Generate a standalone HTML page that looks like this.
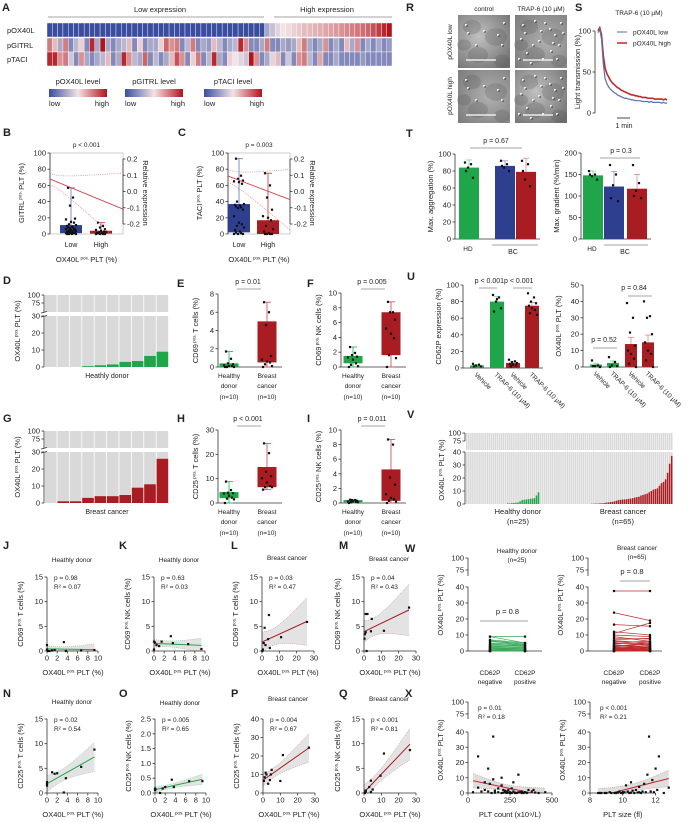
<!DOCTYPE html>
<html><head><meta charset="utf-8">
<style>
html,body{margin:0;padding:0;background:#fff;}
svg{display:block;font-family:"Liberation Sans",sans-serif;}
</style></head>
<body>
<svg id="fig" width="689" height="822" viewBox="0 0 689 822" xmlns="http://www.w3.org/2000/svg">
<defs>
<linearGradient id="cbar" x1="0" x2="1" y1="0" y2="0"><stop offset="0" stop-color="#3a4d9e"/><stop offset="0.5" stop-color="#f2e4e6"/><stop offset="1" stop-color="#b0141c"/></linearGradient>
<radialGradient id="mic1" cx="0.4" cy="0.4" r="0.8"><stop offset="0" stop-color="#c0c0c0"/><stop offset="0.6" stop-color="#909090"/><stop offset="1" stop-color="#6c6c6c"/></radialGradient>
<radialGradient id="mic2" cx="0.6" cy="0.5" r="0.8"><stop offset="0" stop-color="#b0b0b0"/><stop offset="1" stop-color="#7a7a7a"/></radialGradient>
</defs>
</svg>
<script>
// ---------------- DATA ----------------
const heatOX40L=[0,0,0,0,0,0,0,0,0,0,0,0,0,0,0,0,0,0,0,0,0,0,0,0,0,0,0,0,0,0,0,0,0,0,0,0,0,0,0,0,0,0.3,0.38,0.45,0.5,0.52,0.55,0.57,0.6,0.6,0.62,0.63,0.65,0.66,0.68,0.7,0.72,0.74,0.76,0.78,0.8,0.85,0.9,0.95,1.0];
const heatGITRL=[0.75,0.6,0.3,0.75,0.2,0.35,0.55,0.2,0.95,0.3,1.0,0.3,0.2,0.3,0.35,0.6,0.2,0.55,0.2,0.3,0.3,0.55,0.8,0.7,0.75,0.2,0.35,0.75,0.2,0.3,0.25,0.6,0.35,0.2,0.3,0.35,0.95,0.7,0.2,0.2,0.3,0.75,0.2,0.2,0.3,0.25,0.3,0.6,0.75,0.3,0.2,0.3,0.7,0.2,0.3,0.2,0.6,0.3,0.7,0.2,0.3,0.2,0.3,0.2,0.25];
const heatTACI=[0.95,0.95,0.7,0.75,0.4,0.2,0.7,0.3,0.2,0.3,0.35,0.6,0.2,0.3,0.95,0.7,0.35,0.3,0.8,0.2,0.35,0.2,0.3,0.6,0.85,0.7,0.2,0.55,0.75,0.2,0.35,0.95,0.3,0.2,0.55,0.5,0.45,0.4,1.0,0.7,0.2,0.3,0.45,0.6,0.2,0.4,0.2,0.7,0.75,0.35,0.2,0.65,0.2,0.2,0.3,0.2,0.2,0.2,0.2,0.25,0.2,0.2,0.2,0.2,0.2];

const bLowStats=[0,1,5,11,57], bHighStats=[0,0.5,2,4,14];
const bLowPts=[57,45,35,19,18,15,14,12,11,10,9,8,8,7,6,6,5,5,4,4,3,3,3,2,2,2,1,1,1,0,0,0,0];
const bHighPts=[14,10,8,6,5,4,3,2,2,1,1,1,0,0,0,0];
const bRelLine=[0.077,-0.108];
const cLowStats=[0,2,15,37,93], cHighStats=[0,0,5,17,75];
const cLowPts=[93,72,68,66,65,64,62,40,37,36,35,34,33,32,30,22,14,12,10,8,5,3,2,1,0,0,0];
const cHighPts=[75,60,45,30,22,20,17,10,6,3,1,0,0,0,0];
const cRelLine=[0.095,-0.05];

const dValues=[0,0,0,0.5,1,1.5,3,3.5,6.5,9];
const gValues=[0,1,1,3,4,4,4.7,9,11,26];

const eHD=[1.7,0.9,0.4,0.3,0.2,0.1,0.1,0,0,0], eBC=[7.1,6,4.6,1.2,0.8,0.6,0.5,0.3,0.1,0];
const eHDStats=[0,0,0.1,0.4,1.7], eBCStats=[0,0.5,1,5,7.1];
const fHD=[2.7,1.9,1.6,1.4,1.3,1.0,0.5,0.3,0.1,0], fBC=[8.8,7.4,7.4,6.4,5.2,4.5,3.9,1.6,1.2,0];
const fHDStats=[0,0.5,1.2,1.5,2.7], fBCStats=[0,1.6,4.8,7.4,8.8];
const hHD=[8.8,5.3,4.2,4,3.9,3,2.2,1.8,1.5,0], hBC=[24.5,20.5,12.8,11,10.2,8.5,7,6.5,6.5,5.5];
const hHDStats=[0,2,3.5,4.5,8.8], hBCStats=[5.5,6.5,9,14.8,24.5];
const iHD=[0.45,0.4,0.4,0.3,0.2,0.2,0.15,0.1,0.1,0], iBC=[8.7,8,3.5,2.5,1.2,0.7,0.5,0.3,0.2,0];
const iHDStats=[0,0.1,0.2,0.4,0.45], iBCStats=[0,0.3,1,4.6,8.7];

const jX=[0,0,0.5,1,1.5,3.3,3.7,6.7,9.3,0.2], jY=[1.2,0.3,0,0.1,0.2,1.8,0,0.1,0.2,0];
const kX=[0,0,0.5,1,1.5,3.3,3.7,6.7,9.3,0.2], kY=[1.9,0.3,1.2,1.0,1.9,3.0,1.6,1.4,0.4,1.7];
const lX=[1.5,4,26,1,3.5,11,0.5,4.5,0.2,2], lY=[4.7,7.3,5.9,1.6,2.4,2.8,0.3,0.6,0,1.2];
const mX=[1,2,4.5,26,0.5,1,4,11.5,1.5,0.3], mY=[7.5,7.5,6.5,8.8,3.4,3.8,4,4.1,0,2.5];
const nX=[0,0,0,1,1.5,2,3.7,3.3,6.7,9.3], nY=[2.2,1.8,1.5,4.2,3.9,4,3,0.1,5.3,8.8];
const oX=[0,0,1,1.5,2,3.3,3.7,6.7,9.3,0.1], oY=[0.15,0.1,0,0.15,0.2,0.45,0.2,0.4,0.4,0.12];
const pX=[0.5,1,1.5,2,3,4,4.5,5,10,11.5,26.5], pY=[6.5,8.5,11,10,5,7,10,12.5,6.5,20.5,24.5];
const qX=[0.5,1,1,3,4,4,5,9.5,11.5,26.5], qY=[0,0.3,0.5,1.2,2.5,0.2,0.7,3.5,8,8.7];

const sHigh=[100,104,95,70,55,48,44,40,37,35,33,31,30,28,27,26,25,24,23,22,22,21,21,20,20,19,19,19,18,18,18,18,17,17,17,17,17,16,17,16];
const sLow=[98,102,90,60,42,36,32,29,27,25,24,22,21,20,19,18,18,17,17,16,16,15,15,15,15,14,14,14,14,13,14,13,13,13,13,13,12,13,12,12];

const tAggMean=[84,86,79], tAggSD=[9,6,16];
const tAggPts=[[90,88,84,72,80],[92,88,84,80,86],[92,88,70,62,80]];
const tGradMean=[148,122,117], tGradSD=[10,35,33];
const tGradPts=[[158,150,146,138,150],[172,150,125,88,95],[172,130,112,95,100]];

const uCD62Mean=[3,80,6,75], uCD62SD=[1,6,2,4];
const uCD62Pts=[[5,4,3,2,2],[88,85,80,72,68,83],[10,8,7,6,5,4,3,2],[90,85,80,78,75,72,70,66,64]];
const uOXMean=[1.5,2.5,14,15], uOXSD=[0.8,1.2,4,4.5];
const uOXPts=[[4,1,0.5,0,0.5],[6,3,1,0.5,0],[39,30,21,13,10,8,5,2,0],[40,31,30,20,15,10,8,4,0]];

const vHD=[0,0,0,0,0,0,0,0,0,0.5,0.5,0.7,0.8,1,1.2,2,3,3.3,3.5,3.7,4,4.2,4.5,6.5,9];
const vBC=[0,0,0,0,0,0,0,0,0,0,0,0,0,0,0,0,0,0,0,0,0,0,0,0,0,0.2,0.2,0.3,0.3,0.5,0.5,0.7,1,1.2,1.5,1.7,2,2.5,3,3.2,3.4,3.5,3.7,4,4.2,4.5,5,5.3,5.6,6.5,7,7.5,8,9,10,11,11.5,12,14,16,17,19,24,31,37];

const wHDNeg=[9,9,7,6.5,6,5,4.5,4,3.5,3,3,2.5,2,2,1.5,1,1,0.5,0.5,0.3,0,0,0,0,0];
const wHDPos=[9,5,5,4.5,4,4,3.5,3,3.5,2.5,2,2,1.5,1,1,1.5,0.5,0.5,0,0.3,0,0.2,0,0,0];
const wBCNeg=[37.5,24,16.5,12,11,10,9,8,7,6.5,6,5.5,5,4.5,4,3.5,3,3,2.5,2.5,2,2,1.5,1.5,1,1,1,0.5,0.5,0.5,0,0,0,0,0];
const wBCPos=[37.5,19,15.5,10,17.5,9,6,7.5,8,5,4,6,3.5,5,2,3,4.5,1,2,3,1.5,0.5,2.5,1,0.5,2,0,1,0,0.5,0,0.3,1,0,0];

const xCount=[60,150,120,150,100,130,200,180,60,100,120,160,200,210,220,230,240,250,260,270,280,290,300,310,320,330,340,350,360,380,400,420,460,240,260,200,180,160,140,30,80,270,250,230,300,320,390,220,280,210];
const xCountPct=[24,37,16,9,7,6,5,3,3.5,2,1,1.5,10,2,0.5,1,0.3,0.5,0,1,0.2,0,12,0.5,1,0,0.5,0,2,1,0.3,0,0.5,2,3,0,0.5,0.2,0,0.5,1,7,0,0,0.4,0,2,1.5,0,0.2];
const xSize=[8.5,8.7,8.9,9.2,9.5,9.7,9.8,10,10,10.2,10.3,10.5,10.5,10.7,10.8,11,11,11.2,11.3,11.5,11.6,11.8,12,12.2,12.5,12.8,9,9.3,10.9,11.4,11.7,12.1,9.9,10.4,10.6,11.1,8.6,9.6,10.1,11.9];
const xSizePct=[0,0,0,0.5,0,0.3,1,0.5,0,5,1,7,0.2,0,2,4,0.5,1,6,12,37,8.5,16,24,0,3.5,0,0,0.3,0.5,1,2,0,0,1.5,0,0,0,0.5,0.5];

// ---------------- HELPERS ----------------
const NS='http://www.w3.org/2000/svg';
const svg=document.getElementById('fig');
const GREEN='#1fa64a', RED='#a81c22', BLUE='#2e3f8f', INK='#222';
function mk(tag,attrs,name,parent){
  const e=document.createElementNS(NS,tag);
  for(const k in attrs) e.setAttribute(k,attrs[k]);
  
  
  (parent||svg).appendChild(e);
  return e;
}
function T(x,y,s,name,o){
  o=o||{};
  const e=mk('text',{x:x,y:y,'font-size':o.fs||7,'text-anchor':o.a||'middle',fill:o.c||INK,'font-weight':o.w||'normal'},name);
  if(o.rot!==undefined) e.setAttribute('transform','rotate('+o.rot+' '+x+' '+y+')');
  e.textContent=s;
  return e;
}
function TS(x,y,pre,post,name,o){
  o=o||{};
  const e=mk('text',{x:x,y:y,'font-size':o.fs||7.5,'text-anchor':'middle',fill:INK},name);
  if(o.rot!==undefined) e.setAttribute('transform','rotate('+o.rot+' '+x+' '+y+')');
  const a=document.createElementNS(NS,'tspan'); a.textContent=pre; e.appendChild(a);
  const b=document.createElementNS(NS,'tspan'); b.setAttribute('font-size','4.5'); b.setAttribute('dy','-2.5'); b.textContent=' pos. '; e.appendChild(b);
  const c=document.createElementNS(NS,'tspan'); c.setAttribute('dy','2.5'); c.textContent=post; e.appendChild(c);
  return e;
}
function Ln(x1,y1,x2,y2,name,st,sw,dash){
  const e=mk('line',{x1:x1,y1:y1,x2:x2,y2:y2,stroke:st||INK,'stroke-width':sw||0.8},name);
  if(dash) e.setAttribute('stroke-dasharray',dash);
  return e;
}
function Rc(x,y,w,h,fill,name,st){
  const e=mk('rect',{x:x,y:y,width:Math.max(0,w),height:Math.max(0,h),fill:fill},name);
  if(st){e.setAttribute('stroke',st);e.setAttribute('stroke-width',0.6);}
  return e;
}
function Pt(x,y,name,c){return Rc(x-1.1,y-1.1,2.2,2.2,c||'#111',name);}
const lin=(d0,d1,r0,r1)=>v=>r0+(v-d0)/(d1-d0)*(r1-r0);
function yAxis(x,s,ticks,labels,name,right){
  Ln(x,s(ticks[0]),x,s(ticks[ticks.length-1]),name+'-line','#333',0.8);
  ticks.forEach((t,i)=>{
    const y=s(t);
    Ln(x,y,right?x+2.5:x-2.5,y,name+'-tick','#333',0.8);
    T(right?x+4:x-4,y+2.5,labels[i],name+'-label',{a:right?'start':'end',fs:7.5});
  });
}
function xAxis(y,s,ticks,labels,name,fs){
  Ln(s(ticks[0]),y,s(ticks[ticks.length-1]),y,name+'-line','#333',0.8);
  ticks.forEach((t,i)=>{
    const x=s(t);
    Ln(x,y,x,y+2.5,name+'-tick','#333',0.8);
    T(x,y+9.5,labels[i],name+'-label',{fs:fs||7.5});
  });
}
function letter(x,y,s){T(x,y,s,'panel-label-'+s.toLowerCase(),{fs:11,w:'bold',a:'start'});}
function box(cx,w,s,st,fill,wh,pts,name){
  Ln(cx,s(st[0]),cx,s(st[4]),name+'-whisker',wh,0.9);
  Ln(cx-4,s(st[4]),cx+4,s(st[4]),name+'-cap',wh,0.9);
  Ln(cx-4,s(st[0]),cx+4,s(st[0]),name+'-cap',wh,0.9);
  Rc(cx-w/2,s(st[3]),w,s(st[1])-s(st[3]),fill,name+'-box');
  const off=[-3,2,-1,4,-5,0,3,-2,5,-4,1];
  pts.forEach((v,i)=>Pt(cx+off[i%off.length],s(v),name+'-point'));
}
function fit(xs,ys){
  const n=xs.length, mx=xs.reduce((a,b)=>a+b)/n, my=ys.reduce((a,b)=>a+b)/n;
  let sxx=0,sxy=0; xs.forEach((x,i)=>{sxx+=(x-mx)**2;sxy+=(x-mx)*(ys[i]-my);});
  const b=sxy/sxx, a=my-b*mx;
  let sse=0; xs.forEach((x,i)=>{sse+=(ys[i]-a-b*x)**2;});
  const se=Math.sqrt(sse/(n-2));
  return {a:a,b:b,mx:mx,sxx:sxx,se:se,n:n};
}
let clipN=0;
function regression(xs,ys,sx,sy,x0,x1,col,bandCol,clip,name){
  const f=fit(xs,ys);
  const id='clp'+(clipN++);
  const cp=mk('clipPath',{id:id},name+'-clip');
  mk('rect',{x:clip[0],y:clip[1],width:clip[2],height:clip[3]},name+'-clip-rect',cp);
  const g=mk('g',{'clip-path':'url(#'+id+')'},name+'-fit');
  const up=[],lo=[];
  for(let k=0;k<=40;k++){
    const x=x0+(x1-x0)*k/40, yh=f.a+f.b*x;
    const h=2.3*f.se*Math.sqrt(1/f.n+(x-f.mx)**2/f.sxx);
    up.push(sx(x)+','+sy(yh+h)); lo.push(sx(x)+','+sy(yh-h));
  }
  mk('polygon',{points:up.concat(lo.slice().reverse()).join(' '),fill:bandCol},name+'-ci-band',g);
  mk('polyline',{points:up.join(' '),fill:'none',stroke:col,'stroke-width':0.5,'stroke-dasharray':'1,1','opacity':0.6},name+'-ci-upper',g);
  mk('polyline',{points:lo.join(' '),fill:'none',stroke:col,'stroke-width':0.5,'stroke-dasharray':'1,1','opacity':0.6},name+'-ci-lower',g);
  mk('line',{x1:sx(x0),y1:sy(f.a+f.b*x0),x2:sx(x1),y2:sy(f.a+f.b*x1),stroke:col,'stroke-width':1},name+'-line',g);
}
function heatColor(v){
  const c0=[58,77,158],c1=[242,228,230],c2=[176,20,28];
  let a,b,t; if(v<0.5){a=c0;b=c1;t=v/0.5;}else{a=c1;b=c2;t=(v-0.5)/0.5;}
  return 'rgb('+a.map((c,i)=>Math.round(c+(b[i]-c)*t)).join(',')+')';
}

// ---------------- PANEL A ----------------
letter(2,11,'A');
T(160,12,'Low expression','heatmap-low-group-label',{fs:7.5});
Ln(48,17,264,17,'heatmap-low-group-bracket','#888',0.7);
T(327,12,'High expression','heatmap-high-group-label',{fs:7.5});
Ln(274,17,392,17,'heatmap-high-group-bracket','#888',0.7);
const rows=[[heatOX40L,'pOX40L',23],[heatGITRL,'pGITRL',38],[heatTACI,'pTACI',52]];
const cw=(392-47)/65;
rows.forEach(r=>{
  T(7,r[2]+10,r[1],'heatmap-row-label',{fs:7.5,a:'start'});
  r[0].slice(0,65).forEach((v,i)=>{
    const e=Rc(47+i*cw,r[2],cw,14,heatColor(v),'heatmap-cell');
    e.setAttribute('stroke','#fff'); e.setAttribute('stroke-width','0.4');
  });
});
[['pOX40L level',49],['pGITRL level',125],['pTACI level',204]].forEach(l=>{
  T(l[1]+29,84,l[0],'colorbar-title',{fs:7.5});
  Rc(l[1],89,58,8,'url(#cbar)','colorbar');
  T(l[1],106,'low','colorbar-low-label',{fs:7.5,a:'start'});
  T(l[1]+60,106,'high','colorbar-high-label',{fs:7.5,a:'end'});
});

// ---------------- PANELS B, C ----------------
function relPanel(L,x0,x1,p,lowStats,lowPts,highStats,highPts,cxL,cxH,rel,yname,half0,bw){
  letter(L==='B'?3:178,136,L);
  const s=lin(0,100,234,153), r=lin(-0.2,0.2,224,159);
  Rc(x0,153,x1-x0,81,'none','panel-'+L.toLowerCase()+'-frame','#aaa');
  yAxis(x0,s,[0,20,40,60,80,100],['0','20','40','60','80','100'],'panel-'+L.toLowerCase()+'-y-axis');
  yAxis(x1,r,[-0.2,-0.1,0,0.1,0.2],['-0.2','-0.1','0.0','0.1','0.2'],'panel-'+L.toLowerCase()+'-right-axis',true);
  T((x0+x1)/2,147,p,'panel-'+L.toLowerCase()+'-p-value',{fs:6.5});
  box(cxL,22,s,lowStats,BLUE,'#6f86c6',lowPts,'panel-'+L.toLowerCase()+'-low');
  box(cxH,22,s,highStats,RED,'#d0494e',highPts,'panel-'+L.toLowerCase()+'-high');
  const id='clpRel'+L;
  const cp=mk('clipPath',{id:id},'rel-clip');
  mk('rect',{x:x0,y:153,width:x1-x0,height:81},'rel-clip-rect',cp);
  const g=mk('g',{'clip-path':'url(#'+id+')'},'panel-'+L.toLowerCase()+'-relative-fit');
  const up=[],lo=[];
  for(let k=0;k<=30;k++){
    const t=k/30, v=rel[0]+(rel[1]-rel[0])*t, h=half0*Math.sqrt(1+(t/bw)**2);
    const x=x0+(x1-x0)*t; up.push(x+','+r(v+h)); lo.push(x+','+r(v-h));
  }
  mk('polyline',{points:up.join(' '),fill:'none',stroke:'#e07a7e','stroke-width':0.7,'stroke-dasharray':'1,1.2'},'ci-upper',g);
  mk('polyline',{points:lo.join(' '),fill:'none',stroke:'#e07a7e','stroke-width':0.7,'stroke-dasharray':'1,1.2'},'ci-lower',g);
  mk('line',{x1:x0,y1:r(rel[0]),x2:x1,y2:r(rel[1]),stroke:'#d03a3f','stroke-width':0.9},'relative-expression-line',g);
  T(cxL,247,'Low','panel-'+L.toLowerCase()+'-x-label',{fs:7});
  T(cxH,247,'High','panel-'+L.toLowerCase()+'-x-label',{fs:7});
  TS((x0+x1)/2,262,'OX40L','PLT (%)','panel-'+L.toLowerCase()+'-x-title');
  TS(x0-26,193,yname,'PLT (%)','panel-'+L.toLowerCase()+'-y-title',{rot:-90});
  T(x1+20,193,'Relative expression','panel-'+L.toLowerCase()+'-right-title',{fs:7.5,rot:90});
}
relPanel('B',50,123,'p < 0.001',bLowStats,bLowPts,bHighStats,bHighPts,71,101,bRelLine,'GITRL',0.035,0.16);
relPanel('C',228,290,'p = 0.003',cLowStats,cLowPts,cHighStats,cHighPts,239,268,cRelLine,'TACI',0.04,0.22);

// ---------------- PANELS D, G ----------------
function brokenBars(L,ly,top,lowTop,zero,vals,col,label){
  letter(3,ly,L);
  const su=lin(75,100,top+8,top), sl=lin(0,30,zero,lowTop);
  const pitch=(169-45)/10;
  vals.forEach((v,i)=>{
    const x=45+i*pitch;
    Rc(x,top,pitch-0.8,17,'#d9d9d9','background-bar');
    Rc(x,lowTop,pitch-0.8,zero-lowTop,'#d9d9d9','background-bar');
    Rc(x,sl(v),pitch-0.8,zero-sl(v),col,'bar-'+label.toLowerCase().replace(' ','-'));
  });
  yAxis(44,su,[75,100],['75','100'],'panel-'+L.toLowerCase()+'-y-axis-upper');
  Ln(44,su(75),44,top+17,'axis-upper-ext','#333',0.8);
  yAxis(44,sl,[0,10,20,30],['0','10','20','30'],'panel-'+L.toLowerCase()+'-y-axis-lower');
  Ln(41,top+18,47,top+16.5,'axis-break','#333',0.7);
  Ln(41,lowTop+1,47,lowTop-0.5,'axis-break','#333',0.7);
  TS(20,(top+zero)/2,'OX40L','PLT (%)','panel-'+L.toLowerCase()+'-y-title',{rot:-90});
  T(107,zero+11,label,'panel-'+L.toLowerCase()+'-x-title',{fs:7});
}
brokenBars('D',284,295,316,367,dValues,GREEN,'Heathly donor');
brokenBars('G',422,431,452,503,gValues,RED,'Breast cancer');

// ---------------- PANELS E, F, H, I ----------------
function boxPanel(L,lx,ly,ax,s,ticks,p,py,hdStats,hdPts,bcStats,bcPts,cx1,cx2,ytitle,catY){
  letter(lx,ly,L);
  yAxis(ax,s,ticks,ticks.map(String),'panel-'+L.toLowerCase()+'-y-axis');
  Ln(ax,s(0),cx2+15,s(0),'panel-'+L.toLowerCase()+'-x-axis','#333',0.8);
  T((cx1+cx2)/2,py,p,'panel-'+L.toLowerCase()+'-p-value',{fs:7});
  Ln(cx1+8,py+5,cx2-6,py+5,'significance-bar','#888',0.8);
  box(cx1,19,s,hdStats,GREEN,'#3bb56a',hdPts,'panel-'+L.toLowerCase()+'-healthy');
  box(cx2,19,s,bcStats,RED,'#cc5a5f',bcPts,'panel-'+L.toLowerCase()+'-cancer');
  [['Healthy','donor','(n=10)',cx1],['Breast','cancer','(n=10)',cx2]].forEach(c=>{
    T(c[3],catY,c[0],'category-label',{fs:6.5});
    T(c[3],catY+10,c[1],'category-label',{fs:6.5});
    T(c[3],catY+21,c[2],'category-label',{fs:6.5});
  });
  TS(ax-20,(s(0)+s(ticks[ticks.length-1]))/2,ytitle[0],ytitle[1],'panel-'+L.toLowerCase()+'-y-title',{rot:-90});
}
boxPanel('E',177,287,218,lin(0,8,367,294),[0,2,4,6,8],'p = 0.01',284,eHDStats,eHD,eBCStats,eBC,229,267,['CD69','T cells (%)'],378);
boxPanel('F',307,287,341,lin(0,10,367,293),[0,2,4,6,8,10],'p = 0.005',284,fHDStats,fHD,fBCStats,fBC,353,391,['CD69','NK cells (%)'],378);
boxPanel('H',177,422,218,lin(0,30,503,430),[0,10,20,30],'p < 0.001',421,hHDStats,hHD,hBCStats,hBC,229,267,['CD25','T cells (%)'],514);
boxPanel('I',307,422,341,lin(0,10,503,430),[0,2,4,6,8,10],'p = 0.011',421,iHDStats,iHD,iBCStats,iBC,353,391,['CD25','NK cells (%)'],514);

// ---------------- PANELS J-Q ----------------
function scatterPanel(L,lx,ly,ax,xmax,xticks,top,zero,ymax,yticks,ylabels,xs,ys,col,title,ty,p,r2,ytitle){
  letter(lx,ly,L);
  const sx=lin(0,xmax,ax,ax+(xmax===10?51:52)), sy=lin(0,ymax,zero,top);
  T(ax+25,ty,title,'panel-'+L.toLowerCase()+'-title',{fs:6.5});
  regression(xs,ys,sx,sy,0,xs.reduce((a,b)=>Math.max(a,b)),col,'#e3e3e3',[ax,top-2,62,zero-top+2],'panel-'+L.toLowerCase());
  yAxis(ax,sy,yticks,ylabels,'panel-'+L.toLowerCase()+'-y-axis');
  xAxis(zero,sx,xticks,xticks.map(String),'panel-'+L.toLowerCase()+'-x-axis');
  xs.forEach((x,i)=>Pt(sx(x),sy(ys[i]),'panel-'+L.toLowerCase()+'-point'));
  T(ax+7,top+3,p,'panel-'+L.toLowerCase()+'-p-value',{fs:6.5,a:'start'});
  T(ax+7,top+12,r2,'panel-'+L.toLowerCase()+'-r-squared',{fs:6.5,a:'start'});
  TS(ax+26,zero+24,'OX40L','PLT (%)','panel-'+L.toLowerCase()+'-x-title');
  TS(ax-24,(top+zero)/2,ytitle[0],ytitle[1],'panel-'+L.toLowerCase()+'-y-title',{rot:-90});
}
const t10=[0,2,4,6,8,10], t30=[0,10,20,30];
scatterPanel('J',3,549,47,10,t10,577,651,15,[0,5,10,15],['0','5','10','15'],jX,jY,GREEN,'Heathly donor',562,'p = 0.98','R² = 0.07',['CD69','T cells (%)']);
scatterPanel('K',119,549,154,10,t10,577,651,15,[0,5,10,15],['0','5','10','15'],kX,kY,GREEN,'Heathly donor',562,'p = 0.63','R² = 0.03',['CD69','NK cells (%)']);
scatterPanel('L',231,549,262,30,t30,577,651,15,[0,5,10,15],['0','5','10','15'],lX,lY,RED,'Breast cancer',560,'p = 0.03','R² = 0.47',['CD69','T cells (%)']);
scatterPanel('M',339,549,364,30,t30,577,651,15,[0,5,10,15],['0','5','10','15'],mX,mY,RED,'Breast cancer',561,'p = 0.04','R² = 0.43',['CD69','NK cells (%)']);
scatterPanel('N',3,697,47,10,t10,719,793,15,[0,5,10,15],['0','5','10','15'],nX,nY,GREEN,'Heathly donor',704,'p = 0.02','R² = 0.54',['CD25','T cells (%)']);
scatterPanel('O',119,697,155,10,t10,719,793,2.5,[0,0.5,1,1.5,2,2.5],['0.0','0.5','1.0','1.5','2.0','2.5'],oX,oY,GREEN,'Heathly donor',705,'p = 0.005','R² = 0.65',['CD25','NK cells (%)']);
scatterPanel('P',231,697,263,30,t30,719,793,40,[0,10,20,30,40],['0','10','20','30','40'],pX,pY,RED,'Breast cancer',701,'p = 0.004','R² = 0.67',['CD25','T cells (%)']);
scatterPanel('Q',339,697,364,30,t30,719,793,15,[0,5,10,15],['0','5','10','15'],qX,qY,RED,'Breast cancer',701,'p < 0.001','R² = 0.81',['CD25','NK cells (%)']);

// ---------------- PANEL R ----------------
letter(406,11,'R');
T(484,11,'control','panel-r-column-label',{fs:6.5});
T(541,11,'TRAP-6 (10 µM)','panel-r-column-label',{fs:6.5});
T(452,42,'pOX40L low','panel-r-row-label',{fs:6.5,rot:-90});
T(452,96,'pOX40L high','panel-r-row-label',{fs:6.5,rot:-90});
const micro=[[458,15,'mic1'],[515,15,'mic2'],[458,70,'mic2'],[515,70,'mic1']];
const dotOff=[[8,10],[20,6],[35,14],[44,30],[12,38],[28,44],[40,20],[6,24],[24,26],[46,8],[16,48],[36,36],[10,18],[30,8],[42,44],[18,30],[48,18],[4,44],[26,16],[38,28]];
const blobOff=[[14,12,9],[38,22,11],[20,40,10],[44,46,8],[6,30,7]];
micro.forEach((m,k)=>{
  Rc(m[0],m[1],52,53,'url(#'+m[2]+')','micrograph');
  blobOff.forEach(b=>mk('ellipse',{cx:m[0]+b[0],cy:m[1]+b[1],rx:b[2],ry:b[2]*0.8,fill:'#555',opacity:0.25},'micrograph-texture',svg));
  dotOff.forEach((d,i)=>{ if(k%2===1||i%3===0){ mk('circle',{cx:m[0]+d[0],cy:m[1]+d[1],r:1.1,fill:'#f4f4f4'},'platelet',svg); mk('circle',{cx:m[0]+d[0]+1,cy:m[1]+d[1]+1,r:0.7,fill:'#222'},'platelet-shadow',svg);} });
  Ln(m[0]+8,m[1]+45,m[0]+38,m[1]+45,'scale-bar','#fff',1.2);
});

// ---------------- PANEL S ----------------
letter(575,11,'S');
T(639,15,'TRAP-6 (10 µM)','panel-s-title',{fs:6.5});
const sSy=lin(0,100,113,31), sSx=lin(0,sHigh.length-1,598,667);
yAxis(595,sSy,[0,50,100],['0','50','100'],'panel-s-y-axis');
mk('polyline',{points:sHigh.map((v,i)=>sSx(i)+','+sSy(v)).join(' '),fill:'none',stroke:'#c0282c','stroke-width':1.6},'trace-pox40l-high');
mk('polyline',{points:sLow.map((v,i)=>sSx(i)+','+sSy(v)).join(' '),fill:'none',stroke:'#5a6fb0','stroke-width':1.2},'trace-pox40l-low');
Ln(617,118,630,118,'time-scale-bar','#333',0.9);
T(624,128,'1 min','time-scale-label',{fs:7});
T(580,72,'Light transmission (%)','panel-s-y-title',{fs:7.5,rot:-90});
Ln(617,32,627,32,'legend-swatch-low','#5a6fb0',1);
T(633,34.5,'pOX40L low','legend-entry-low',{fs:6.5,a:'start'});
Ln(617,43,627,43,'legend-swatch-high','#c0282c',1.5);
T(633,45.5,'pOX40L high','legend-entry-high',{fs:6.5,a:'start'});

// ---------------- PANEL T ----------------
letter(406,137,'T');
function barPanel(name,ax,s,ticks,means,sds,pts,xs,w,cols,ytitle){
  yAxis(ax,s,ticks,ticks.map(String),name+'-y-axis');
  Ln(ax,s(0),xs[xs.length-1]+w/2+4,s(0),name+'-x-axis','#333',0.8);
  means.forEach((m,i)=>{
    Rc(xs[i]-w/2,s(m),w,s(0)-s(m),cols[i],name+'-bar');
    const ec=cols[i]===GREEN?'#7fd39a':cols[i]===RED?'#e08a8d':'#8a9bd3';
    Ln(xs[i],s(m),xs[i],s(m+sds[i]),name+'-error-bar',ec,0.8);
    Ln(xs[i]-3,s(m+sds[i]),xs[i]+3,s(m+sds[i]),name+'-error-cap',ec,0.8);
    const off=[-4,2,-1,4,-3,0,3,-2,5];
    pts[i].forEach((v,j)=>Pt(xs[i]+off[j%off.length],s(v),name+'-point'));
  });
  T(ax-22,(s(0)+s(ticks[ticks.length-1]))/2,ytitle,name+'-y-title',{fs:7.5,rot:-90});
}
const tCols=[GREEN,BLUE,RED];
barPanel('panel-t-aggregation',455,lin(0,100,239,154),[0,20,40,60,80,100],tAggMean,tAggSD,tAggPts,[469,505,526],20,tCols,'Max. aggregation (%)');
T(496,143,'p = 0.67','panel-t-left-p-value',{fs:7});
Ln(470,148,522,148,'significance-bar','#888',0.8);
T(468,251,'HD','group-label-hd',{fs:6.5});
Ln(492,245,538,245,'bc-group-bracket','#888',0.8);
T(513,254,'BC','group-label-bc',{fs:7});
barPanel('panel-t-gradient',581,lin(0,200,239,153),[0,50,100,150,200],tGradMean,tGradSD,tGradPts,[593,614,637],20,tCols,'Max. gradient (%/min)');
T(621,153,'p = 0.3','panel-t-right-p-value',{fs:7});
Ln(600,158,640,158,'significance-bar','#888',0.8);
T(592,251,'HD','group-label-hd',{fs:6.5});
Ln(604,245,648,245,'bc-group-bracket','#888',0.8);
T(625,254,'BC','group-label-bc',{fs:7});

// ---------------- PANEL U ----------------
letter(407,280,'U');
const uCols=[GREEN,GREEN,RED,RED], uCats=['Vehicle','TRAP-6 (10 µM)','Vehicle','TRAP-6 (10 µM)'];
const uLX=[477,497,513,532], uRX=[596,613,631,648];
barPanel('panel-u-cd62p',463,lin(0,100,368,285),[0,20,40,60,80,100],uCD62Mean,uCD62SD,uCD62Pts,uLX,14,uCols,'CD62P expression (%)');
barPanel('panel-u-ox40l',583,lin(0,50,367,285),[0,10,20,30,40,50],uOXMean,uOXSD,uOXPts,uRX,12,uCols,'');
TS(561,326,'OX40L','PLT (%)','panel-u-right-y-title',{rot:-90});
T(504,283,'p < 0.001p < 0.001','panel-u-left-p-values',{fs:7});
Ln(479,288,497,288,'significance-bar','#888',0.8);
Ln(513,288,532,288,'significance-bar','#888',0.8);
T(604,342,'p = 0.52','panel-u-p-left',{fs:7});
Ln(593,348,617,348,'significance-bar','#888',0.8);
T(634,290,'p = 0.84','panel-u-p-right',{fs:7});
Ln(628,296,652,296,'significance-bar','#888',0.8);
uLX.forEach((x,i)=>T(x-3,375,uCats[i],'x-category-label',{fs:6.5,a:'start',rot:45}));
uRX.forEach((x,i)=>T(x-3,374,uCats[i],'x-category-label',{fs:6.5,a:'start',rot:45}));

// ---------------- PANEL V ----------------
letter(407,418,'V');
const vSlots=101, vPitch=(673-466)/vSlots;
const vsu=lin(75,100,441,433), vsl=lin(0,40,504,452);
for(let i=0;i<vSlots;i++){
  Rc(466+i*vPitch,433,vPitch-0.5,17,'#d9d9d9','background-bar');
  Rc(466+i*vPitch,452,vPitch-0.5,52,'#d9d9d9','background-bar');
}
vHD.forEach((v,i)=>Rc(466+(11+i)*vPitch,vsl(v),vPitch-0.5,504-vsl(v),GREEN,'bar-healthy-donor'));
vBC.forEach((v,i)=>Rc(466+(36+i)*vPitch,vsl(v),vPitch-0.5,504-vsl(v),RED,'bar-breast-cancer'));
yAxis(465,vsu,[75,100],['75','100'],'panel-v-y-axis-upper');
yAxis(465,vsl,[0,10,20,30,40],['0','10','20','30','40'],'panel-v-y-axis-lower');
TS(444,470,'OX40L','PLT (%)','panel-v-y-title',{rot:-90});
T(518,514,'Healthy donor','panel-v-group-label',{fs:7.5});
T(518,524,'(n=25)','panel-v-group-label',{fs:7.5});
T(623,514,'Breast cancer','panel-v-group-label',{fs:7.5});
T(623,524,'(n=65)','panel-v-group-label',{fs:7.5});

// ---------------- PANEL W ----------------
letter(405,552,'W');
function pairPanel(name,ax,xEnd,xn,xp,neg,pos,col,t1,t2,ty,p,py,pl){
  const su=lin(75,100,570,558), sl=lin(0,40,651,587);
  yAxis(ax,su,[75,100],['75','100'],name+'-y-axis-upper');
  Ln(ax,570,ax,576,name+'-axis-ext','#333',0.8);
  yAxis(ax,sl,[0,10,20,30,40],['0','10','20','30','40'],name+'-y-axis-lower');
  Ln(ax,651,xEnd,651,name+'-x-axis','#333',0.8);
  neg.forEach((v,i)=>{
    Ln(xn,sl(v),xp,sl(pos[i]),name+'-pair-line',col,0.7);
    Pt(xn,sl(v),name+'-point');
    Pt(xp,sl(pos[i]),name+'-point');
  });
  T((ax+xEnd)/2+12,ty,t1,name+'-title',{fs:6.5});
  T((ax+xEnd)/2+12,ty+9,t2,name+'-title',{fs:6.5});
  T((xn+xp)/2,py,p,name+'-p-value',{fs:7.5});
  Ln(pl[0],py+7,pl[1],py+7,'significance-bar','#888',0.8);
  T(xn,675,'CD62P','x-category-label',{fs:6.5});
  T(xn,684,'negative','x-category-label',{fs:6.5});
  T(xp,675,'CD62P','x-category-label',{fs:6.5});
  T(xp,684,'positive','x-category-label',{fs:6.5});
  TS(ax-25,605,'OX40L','PLT (%)',name+'-y-title',{rot:-90});
}
pairPanel('panel-w-healthy',468,542,490,525,wHDNeg,wHDPos,'#3aaa5c','Healthy donor','(n=25)',553,'p = 0.8',614,[480,528]);
pairPanel('panel-w-cancer',588,662,614,650,wBCNeg,wBCPos,'#c0282c','Breast cancer','(n=65)',550,'p = 0.8',574,[620,650]);

// ---------------- PANEL X ----------------
letter(405,697,'X');
function xPanel(name,ax,sx,xt,xl,xs,ys,p,r2,xtitle){
  const su=lin(75,100,714,702), sl=lin(0,40,793,732);
  regression(xs,ys,sx,sl,Math.min(...xs),Math.max(...xs),'#c0282c','#dedede',[ax,732,90,61],name);
  yAxis(ax,su,[75,100],['75','100'],name+'-y-axis-upper');
  Ln(ax,714,ax,719,name+'-axis-ext','#333',0.8);
  yAxis(ax,sl,[0,10,20,30,40],['0','10','20','30','40'],name+'-y-axis-lower');
  xAxis(793,sx,xt,xl,name+'-x-axis');
  xs.forEach((x,i)=>Pt(sx(x),sl(ys[i]),name+'-point'));
  T(ax+10,710,p,name+'-p-value',{fs:6.5,a:'start'});
  T(ax+10,719,r2,name+'-r-squared',{fs:6.5,a:'start'});
  T((sx(xt[0])+sx(xt[xt.length-1]))/2,817,xtitle,name+'-x-title',{fs:7.5});
  TS(ax-25,750,'OX40L','PLT (%)',name+'-y-title',{rot:-90});
}
xPanel('panel-x-count',468,lin(0,500,468,552),[0,250,500],['0','250','500'],xCount,xCountPct,'p = 0.01','R² = 0.18','PLT count (x10⁹/L)');
xPanel('panel-x-size',590,lin(8,13,590,672),[8,10,12],['8','10','12'],xSize,xSizePct,'p < 0.001','R² = 0.21','PLT size (fl)');
</script>
</body></html>
